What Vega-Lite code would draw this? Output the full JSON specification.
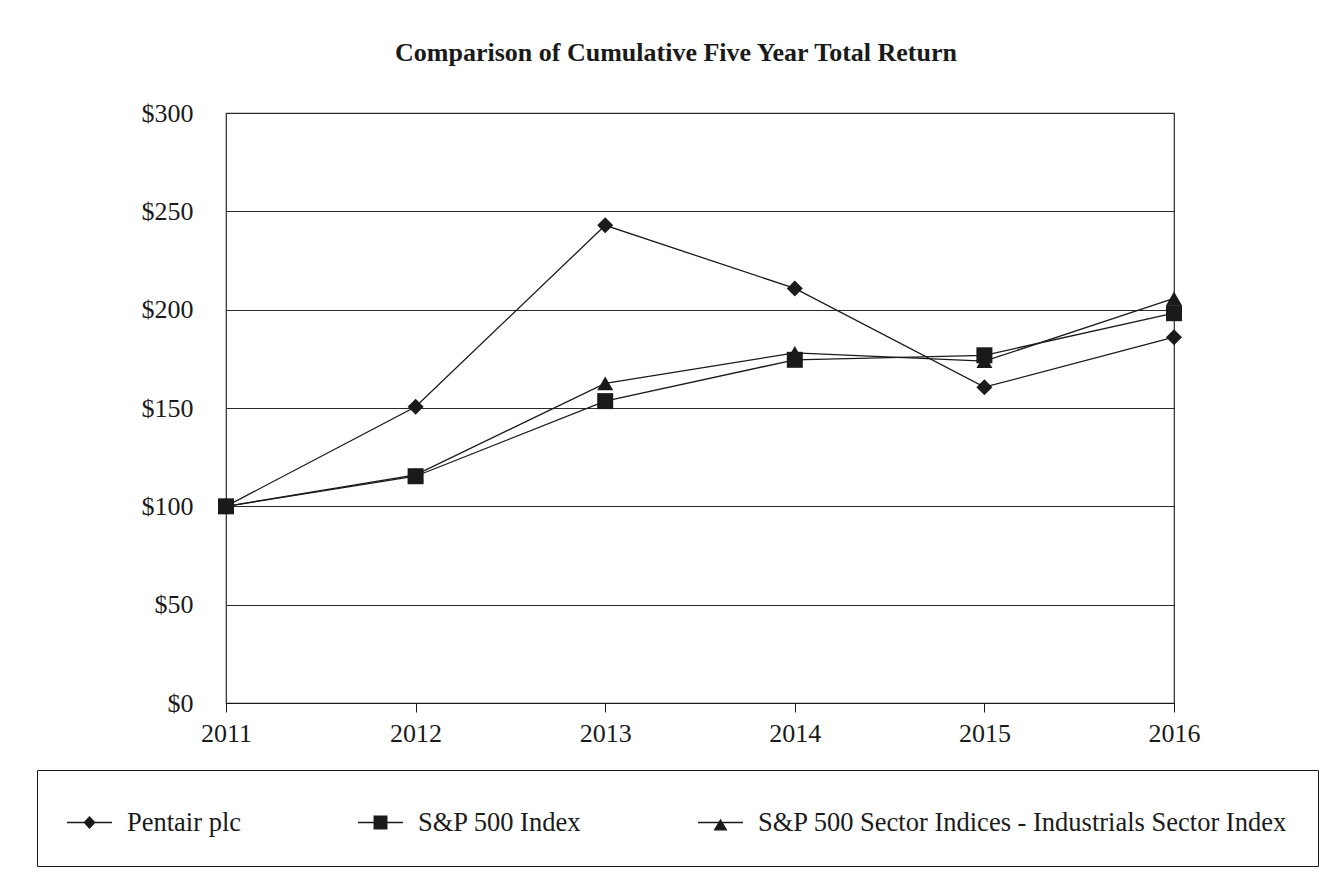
{
  "$schema": "https://vega.github.io/schema/vega-lite/v6.json",
  "autosize": {"type": "none"},
  "width": 948,
  "height": 590,
  "padding": {"left": 226, "top": 113, "right": 154, "bottom": 185},
  "background": "white",
  "title": {
    "text": "Comparison of Cumulative Five Year Total Return",
    "font": "Liberation Serif",
    "fontSize": 26,
    "fontWeight": "bold",
    "color": "#1a1a1a",
    "anchor": "middle",
    "frame": "group",
    "dx": -24,
    "offset": 34
  },
  "data": {
    "values": [
      {"year": "2011", "series": "Pentair plc", "value": 100},
      {"year": "2012", "series": "Pentair plc", "value": 150.6},
      {"year": "2013", "series": "Pentair plc", "value": 242.9},
      {"year": "2014", "series": "Pentair plc", "value": 210.8},
      {"year": "2015", "series": "Pentair plc", "value": 160.6},
      {"year": "2016", "series": "Pentair plc", "value": 186},
      {"year": "2011", "series": "S&P 500 Sector Indices - Industrials Sector Index", "value": 100},
      {"year": "2012", "series": "S&P 500 Sector Indices - Industrials Sector Index", "value": 116},
      {"year": "2013", "series": "S&P 500 Sector Indices - Industrials Sector Index", "value": 162.5},
      {"year": "2014", "series": "S&P 500 Sector Indices - Industrials Sector Index", "value": 178},
      {"year": "2015", "series": "S&P 500 Sector Indices - Industrials Sector Index", "value": 173.8},
      {"year": "2016", "series": "S&P 500 Sector Indices - Industrials Sector Index", "value": 205.7},
      {"year": "2011", "series": "S&P 500 Index", "value": 100},
      {"year": "2012", "series": "S&P 500 Index", "value": 115.3},
      {"year": "2013", "series": "S&P 500 Index", "value": 153.5},
      {"year": "2014", "series": "S&P 500 Index", "value": 174.5},
      {"year": "2015", "series": "S&P 500 Index", "value": 176.8},
      {"year": "2016", "series": "S&P 500 Index", "value": 198.2}
    ]
  },
  "encoding": {
    "x": {
      "field": "year",
      "type": "ordinal",
      "scale": {"type": "point", "padding": 0},
      "axis": {
        "title": null,
        "labelAngle": 0,
        "grid": false,
        "ticks": true,
        "tickSize": 9,
        "tickColor": "#1a1a1a",
        "domainColor": "#1a1a1a",
        "labelPadding": 8
      }
    },
    "y": {
      "field": "value",
      "type": "quantitative",
      "scale": {"domain": [0, 300], "nice": false},
      "axis": {
        "title": null,
        "values": [0, 50, 100, 150, 200, 250, 300],
        "labelExpr": "'$' + datum.value",
        "ticks": false,
        "domain": false,
        "grid": true,
        "gridColor": "#2a2a2a",
        "gridWidth": 1.2,
        "labelPadding": 33
      }
    }
  },
  "layer": [
    {
      "mark": {"type": "line", "color": "#1a1a1a", "strokeWidth": 1.3},
      "encoding": {"detail": {"field": "series", "type": "nominal"}}
    },
    {
      "mark": {"type": "point", "filled": true, "color": "#1a1a1a", "opacity": 1, "size": 256},
      "encoding": {
        "shape": {
          "field": "series",
          "type": "nominal",
          "scale": {
            "domain": ["Pentair plc", "S&P 500 Index", "S&P 500 Sector Indices - Industrials Sector Index"],
            "range": ["diamond", "square", "triangle-up"]
          },
          "legend": null
        }
      }
    },
    {
      "mark": {"type": "point", "filled": true, "color": "#1a1a1a", "opacity": 0},
      "encoding": {
        "shape": {
          "field": "series",
          "type": "nominal",
          "scale": {
            "domain": ["Pentair plc", "S&P 500 Index", "S&P 500 Sector Indices - Industrials Sector Index"],
            "range": [
              "M-1,-0.03L1,-0.03L1,0.03L-1,0.03ZM-0.27,0L0,-0.29L0.27,0L0,0.29Z",
              "M-1,-0.03L1,-0.03L1,0.03L-1,0.03ZM-0.31,-0.31L0.31,-0.31L0.31,0.31L-0.31,0.31Z",
              "M-1,-0.03L1,-0.03L1,0.03L-1,0.03ZM0,-0.17L0.31,0.36L-0.31,0.36Z"
            ]
          },
          "legend": {
            "title": null,
            "orient": "none",
            "legendX": -189,
            "legendY": 657,
            "direction": "horizontal",
            "symbolSize": 2025,
            "symbolOpacity": 1,
            "symbolFillColor": "#1a1a1a",
            "symbolStrokeWidth": 0,
            "labelFont": "Liberation Serif",
            "labelFontSize": 26.5,
            "labelColor": "#1a1a1a",
            "labelLimit": 800,
            "labelOffset": 15,
            "columnPadding": 116,
            "padding": 30,
            "strokeColor": "#1a1a1a"
          }
        }
      }
    }
  ],
  "resolve": {"scale": {"shape": "independent"}},
  "config": {
    "view": {"stroke": "#2a2a2a", "strokeWidth": 1.2},
    "axis": {
      "labelFont": "Liberation Serif",
      "labelFontSize": 26,
      "labelColor": "#1a1a1a"
    }
  }
}
